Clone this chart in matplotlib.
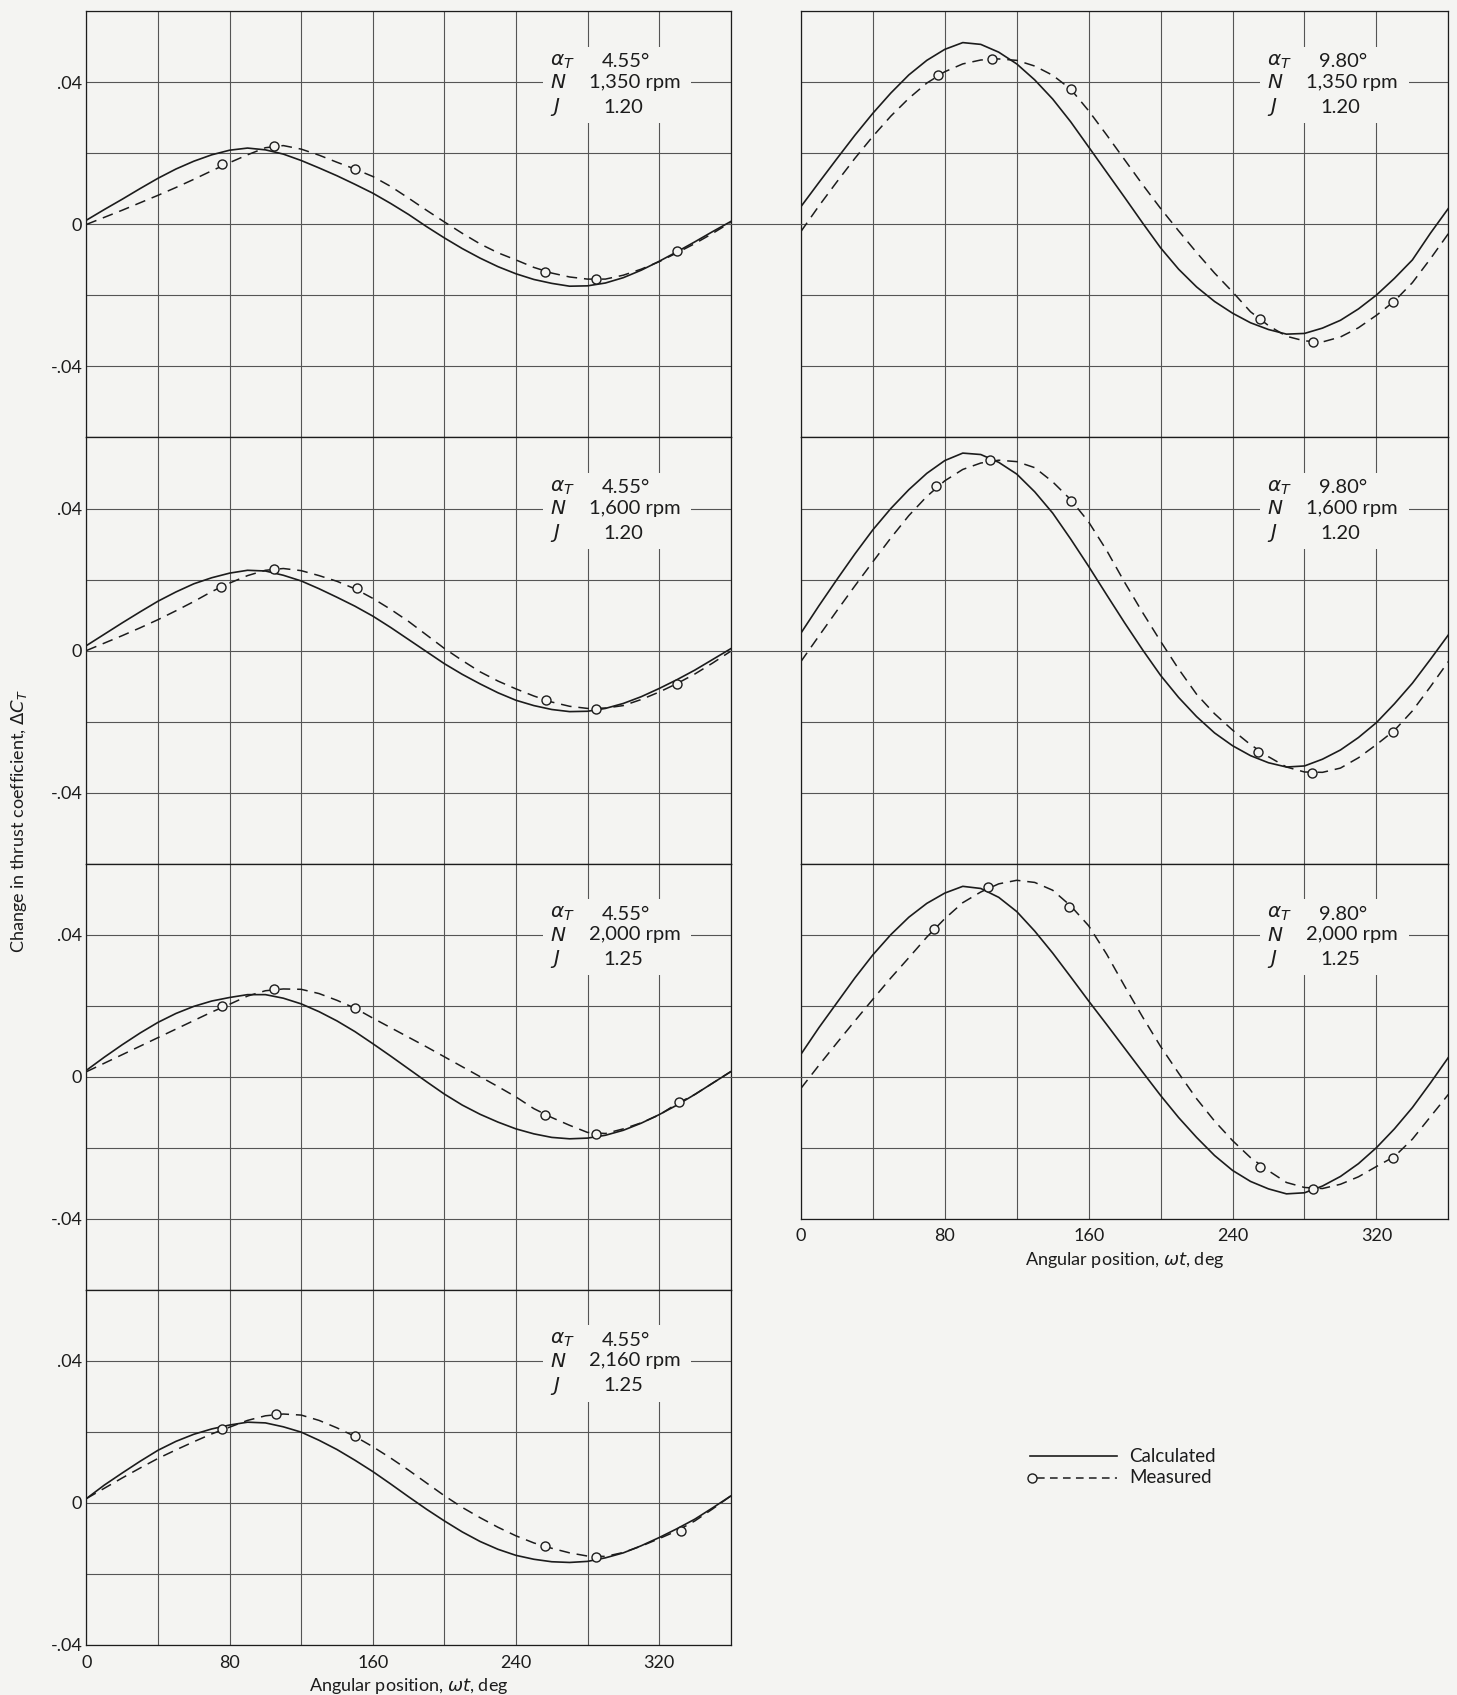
import numpy as np
import matplotlib
matplotlib.use("Agg")
import matplotlib.pyplot as plt
from matplotlib.patches import Rectangle
from matplotlib.lines import Line2D

plt.rcParams['font.family'] = ['Lato', 'DejaVu Sans']
plt.rcParams['mathtext.fontset'] = 'dejavusans'

PAPER = '#f4f4f2'
INK = '#1c1c1c'
GRID = '#555555'

# --- Data (every 10 deg) ---
deg = [0, 10, 20, 30, 40, 50, 60, 70, 80, 90, 100, 110, 120, 130, 140, 150, 160, 170, 180,
       190, 200, 210, 220, 230, 240, 250, 260, 270, 280, 290, 300, 310, 320, 330, 340, 350, 360]

# alpha_T 4.55 deg, 1,350 rpm, J 1.20
calc_455_1350 = [0.0012, 0.0042, 0.0071, 0.0101, 0.0130, 0.0156, 0.0178, 0.0196, 0.0209, 0.0215, 0.0210,
                 0.0198, 0.0180, 0.0159, 0.0137, 0.0113, 0.0088, 0.0059, 0.0028, -0.0006, -0.0038,
                 -0.0068, -0.0095, -0.0119, -0.0139, -0.0155, -0.0166, -0.0174, -0.0173, -0.0165, -0.0150,
                 -0.0129, -0.0104, -0.0077, -0.0049, -0.0020, 0.0008]
meas_455_1350 = [0.0000, 0.0020, 0.0040, 0.0061, 0.0082, 0.0104, 0.0127, 0.0151, 0.0174, 0.0196, 0.0216,
                 0.0222, 0.0212, 0.0195, 0.0175, 0.0156, 0.0135, 0.0107, 0.0074, 0.0040, 0.0007,
                 -0.0025, -0.0055, -0.0080, -0.0100, -0.0121, -0.0137, -0.0148, -0.0154, -0.0154, -0.0143,
                 -0.0126, -0.0105, -0.0080, -0.0054, -0.0025, 0.0006]
pts_x_455_1350 = [76, 105, 150, 256, 285, 330]
pts_y_455_1350 = [0.0170, 0.0222, 0.0155, -0.0133, -0.0155, -0.0075]

# alpha_T 4.55 deg, 1,600 rpm, J 1.20
calc_455_1600 = [0.0014, 0.0046, 0.0078, 0.0109, 0.0139, 0.0165, 0.0188, 0.0205, 0.0218, 0.0226, 0.0224,
                 0.0212, 0.0196, 0.0174, 0.0150, 0.0125, 0.0097, 0.0065, 0.0031, -0.0003, -0.0037,
                 -0.0067, -0.0094, -0.0119, -0.0140, -0.0155, -0.0166, -0.0172, -0.0171, -0.0163, -0.0149,
                 -0.0130, -0.0107, -0.0082, -0.0055, -0.0025, 0.0005]
meas_455_1600 = [0.0000, 0.0021, 0.0042, 0.0064, 0.0087, 0.0112, 0.0138, 0.0166, 0.0190, 0.0211, 0.0226,
                 0.0231, 0.0225, 0.0211, 0.0195, 0.0174, 0.0147, 0.0116, 0.0082, 0.0044, 0.0006,
                 -0.0028, -0.0060, -0.0086, -0.0108, -0.0128, -0.0145, -0.0157, -0.0163, -0.0162, -0.0155,
                 -0.0138, -0.0117, -0.0093, -0.0066, -0.0035, -0.0002]
pts_x_455_1600 = [75, 105, 151, 257, 285, 330]
pts_y_455_1600 = [0.0180, 0.0231, 0.0177, -0.0140, -0.0165, -0.0093]

# alpha_T 4.55 deg, 2,000 rpm, J 1.25
calc_455_2000 = [0.0018, 0.0055, 0.0090, 0.0123, 0.0153, 0.0178, 0.0198, 0.0213, 0.0223, 0.0231, 0.0231,
                 0.0221, 0.0205, 0.0183, 0.0157, 0.0127, 0.0093, 0.0058, 0.0022, -0.0014, -0.0049,
                 -0.0080, -0.0106, -0.0128, -0.0147, -0.0161, -0.0171, -0.0175, -0.0173, -0.0165, -0.0151,
                 -0.0131, -0.0107, -0.0080, -0.0050, -0.0018, 0.0014]
meas_455_2000 = [0.0014, 0.0038, 0.0062, 0.0086, 0.0110, 0.0134, 0.0158, 0.0182, 0.0204, 0.0227, 0.0242,
                 0.0247, 0.0246, 0.0234, 0.0215, 0.0193, 0.0165, 0.0138, 0.0111, 0.0084, 0.0056,
                 0.0028, 0.0000, -0.0028, -0.0057, -0.0090, -0.0115, -0.0137, -0.0157, -0.0160, -0.0147,
                 -0.0130, -0.0108, -0.0076, -0.0050, -0.0018, 0.0014]
pts_x_455_2000 = [76, 105, 150, 256, 285, 331]
pts_y_455_2000 = [0.0198, 0.0246, 0.0194, -0.0107, -0.0161, -0.0072]

# alpha_T 4.55 deg, 2,160 rpm, J 1.25
calc_455_2160 = [0.0012, 0.0050, 0.0084, 0.0117, 0.0148, 0.0173, 0.0193, 0.0208, 0.0219, 0.0227, 0.0225,
                 0.0214, 0.0199, 0.0176, 0.0150, 0.0120, 0.0088, 0.0053, 0.0017, -0.0018, -0.0051,
                 -0.0082, -0.0109, -0.0131, -0.0148, -0.0159, -0.0166, -0.0168, -0.0165, -0.0155, -0.0141,
                 -0.0121, -0.0098, -0.0073, -0.0046, -0.0014, 0.0019]
meas_455_2160 = [0.0012, 0.0041, 0.0070, 0.0098, 0.0125, 0.0149, 0.0172, 0.0194, 0.0213, 0.0232, 0.0245,
                 0.0250, 0.0247, 0.0232, 0.0211, 0.0187, 0.0158, 0.0126, 0.0092, 0.0056, 0.0020,
                 -0.0013, -0.0042, -0.0069, -0.0093, -0.0113, -0.0128, -0.0141, -0.0150, -0.0151, -0.0140,
                 -0.0122, -0.0101, -0.0079, -0.0051, -0.0017, 0.0019]
pts_x_455_2160 = [76, 106, 150, 256, 285, 332]
pts_y_455_2160 = [0.0207, 0.0250, 0.0189, -0.0122, -0.0153, -0.0079]

# alpha_T 9.80 deg, 1,350 rpm, J 1.20
calc_980_1350 = [0.0050, 0.0118, 0.0185, 0.0251, 0.0313, 0.0370, 0.0421, 0.0462, 0.0493, 0.0512, 0.0507,
                 0.0485, 0.0452, 0.0407, 0.0353, 0.0289, 0.0218, 0.0147, 0.0076, 0.0004, -0.0066,
                 -0.0126, -0.0176, -0.0217, -0.0250, -0.0277, -0.0296, -0.0309, -0.0307, -0.0292, -0.0270,
                 -0.0238, -0.0199, -0.0152, -0.0100, -0.0025, 0.0045]
meas_980_1350 = [-0.0020, 0.0052, 0.0120, 0.0186, 0.0248, 0.0305, 0.0355, 0.0398, 0.0430, 0.0452, 0.0463,
                 0.0466, 0.0462, 0.0446, 0.0420, 0.0381, 0.0320, 0.0252, 0.0182, 0.0112, 0.0045,
                 -0.0018, -0.0079, -0.0137, -0.0190, -0.0246, -0.0285, -0.0315, -0.0328, -0.0331, -0.0317,
                 -0.0291, -0.0256, -0.0216, -0.0164, -0.0097, -0.0026]
pts_x_980_1350 = [76, 106, 150, 255, 285, 329]
pts_y_980_1350 = [0.0420, 0.0466, 0.0382, -0.0266, -0.0331, -0.0219]

# alpha_T 9.80 deg, 1,600 rpm, J 1.20
calc_980_1600 = [0.0049, 0.0126, 0.0200, 0.0272, 0.0340, 0.0400, 0.0453, 0.0499, 0.0535, 0.0556, 0.0552,
                 0.0530, 0.0497, 0.0447, 0.0387, 0.0314, 0.0237, 0.0157, 0.0078, 0.0002, -0.0070,
                 -0.0132, -0.0186, -0.0232, -0.0268, -0.0296, -0.0316, -0.0328, -0.0325, -0.0306, -0.0280,
                 -0.0245, -0.0203, -0.0150, -0.0092, -0.0025, 0.0044]
meas_980_1600 = [-0.0031, 0.0041, 0.0112, 0.0182, 0.0250, 0.0317, 0.0380, 0.0434, 0.0478, 0.0510, 0.0528,
                 0.0536, 0.0532, 0.0515, 0.0475, 0.0425, 0.0362, 0.0282, 0.0192, 0.0107, 0.0026,
                 -0.0052, -0.0123, -0.0178, -0.0224, -0.0265, -0.0299, -0.0328, -0.0342, -0.0343, -0.0331,
                 -0.0302, -0.0265, -0.0225, -0.0170, -0.0102, -0.0031]
pts_x_980_1600 = [75, 105, 150, 254, 284, 329]
pts_y_980_1600 = [0.0463, 0.0536, 0.0421, -0.0285, -0.0346, -0.0229]

# alpha_T 9.80 deg, 2,000 rpm, J 1.25
calc_980_2000 = [0.0063, 0.0138, 0.0208, 0.0278, 0.0343, 0.0400, 0.0449, 0.0488, 0.0517, 0.0536, 0.0530,
                 0.0505, 0.0465, 0.0410, 0.0348, 0.0281, 0.0213, 0.0147, 0.0080, 0.0013, -0.0053,
                 -0.0115, -0.0171, -0.0222, -0.0264, -0.0295, -0.0316, -0.0330, -0.0327, -0.0308, -0.0281,
                 -0.0245, -0.0200, -0.0147, -0.0087, -0.0018, 0.0054]
meas_980_2000 = [-0.0033, 0.0032, 0.0095, 0.0157, 0.0218, 0.0278, 0.0335, 0.0393, 0.0445, 0.0490, 0.0520,
                 0.0543, 0.0553, 0.0547, 0.0525, 0.0481, 0.0425, 0.0345, 0.0255, 0.0168, 0.0085,
                 0.0010, -0.0062, -0.0125, -0.0180, -0.0228, -0.0265, -0.0298, -0.0312, -0.0315, -0.0303,
                 -0.0282, -0.0253, -0.0225, -0.0176, -0.0113, -0.0050]
pts_x_980_2000 = [74, 104, 149, 255, 285, 329]
pts_y_980_2000 = [0.0417, 0.0535, 0.0479, -0.0253, -0.0315, -0.0230]

alpha_labels = ['4.55°', '4.55°', '4.55°', '4.55°', '9.80°', '9.80°', '9.80°']
rpm_labels = ['1,350 rpm', '1,600 rpm', '2,000 rpm', '2,160 rpm', '1,350 rpm', '1,600 rpm', '2,000 rpm']
j_labels = ['1.20', '1.20', '1.25', '1.25', '1.20', '1.20', '1.25']

calc_sets = [calc_455_1350, calc_455_1600, calc_455_2000, calc_455_2160,
             calc_980_1350, calc_980_1600, calc_980_2000]
meas_sets = [meas_455_1350, meas_455_1600, meas_455_2000, meas_455_2160,
             meas_980_1350, meas_980_1600, meas_980_2000]
pts_x_sets = [pts_x_455_1350, pts_x_455_1600, pts_x_455_2000, pts_x_455_2160,
              pts_x_980_1350, pts_x_980_1600, pts_x_980_2000]
pts_y_sets = [pts_y_455_1350, pts_y_455_1600, pts_y_455_2000, pts_y_455_2160,
              pts_y_980_1350, pts_y_980_1600, pts_y_980_2000]

# --- Layout (measured on the reference, in its pixel units) ---
REF_W, REF_H = 1348.0, 1568.0
CELL = 65.7
TOP0 = 10.5

def fig_rect(x0, x1, top, ncell):
    return [x0 / REF_W, 1 - (top + ncell * CELL) / REF_H, (x1 - x0) / REF_W, ncell * CELL / REF_H]

# (column, row, number of grid cells tall, bottom panel?)
panel_layout = [('L', 0, 6, False), ('L', 1, 6, False), ('L', 2, 6, False), ('L', 3, 5, True),
                ('R', 0, 6, False), ('R', 1, 6, False), ('R', 2, 5, True)]
col_x = {'L': (80, 676), 'R': (741, 1340)}

fig = plt.figure(figsize=(14.57, 16.95), dpi=100)
fig.patch.set_facecolor(PAPER)

y_ticklabels = {0.04: '.04', 0.0: '0', -0.04: '-.04'}
x_ticklabels = {0: '0', 80: '80', 160: '160', 240: '240', 320: '320'}

axes = []
for i, (col, row, ncell, is_bottom) in enumerate(panel_layout):
    x0, x1 = col_x[col]
    ax = fig.add_axes(fig_rect(x0, x1, TOP0 + row * 6 * CELL, ncell))
    axes.append(ax)
    ymin = 0.06 - 0.02 * ncell
    ax.set_facecolor(PAPER)
    ax.set_xlim(0, 360)
    ax.set_ylim(ymin, 0.06)
    ax.set_axisbelow(True)

    xt = np.arange(0, 361, 40)
    yt = np.round(np.arange(ymin, 0.0601, 0.02), 2)
    ax.set_xticks(xt)
    ax.set_yticks(yt)
    ax.grid(True, color=GRID, lw=0.8)
    ax.tick_params(length=0, labelsize=13, colors=INK)
    ax.tick_params(axis='y', pad=3)
    ax.tick_params(axis='x', pad=7)

    if col == 'L':
        ax.set_yticklabels([y_ticklabels.get(round(float(v), 2), '') for v in yt])
    else:
        ax.set_yticklabels([])
    if is_bottom:
        ax.set_xticklabels([x_ticklabels.get(int(v), '') for v in xt])
        ax.set_xlabel(r'Angular position, $\omega t$, deg', fontsize=13, color=INK, labelpad=4)
    else:
        ax.set_xticklabels([])

    for s in ax.spines.values():
        s.set_color(INK)
        s.set_linewidth(0.9)

    # curves
    ax.plot(deg, calc_sets[i], color=INK, lw=1.2, zorder=3)
    ax.plot(deg, meas_sets[i], color=INK, lw=1.1, ls=(0, (7, 4.5)), zorder=3)
    ax.plot(pts_x_sets[i], pts_y_sets[i], ls='none', marker='o', ms=6.5, mew=1.0,
            mfc=PAPER, mec=INK, zorder=4)

    # condition block, with paper behind it so the grid is broken there
    ax.add_patch(Rectangle((255, 0.0285), 83, 0.0215, facecolor=PAPER, edgecolor='none', zorder=1))
    ax.text(259, 0.0458, r'$\alpha_T$', fontsize=14.5, color=INK, va='center', ha='left', zorder=5)
    ax.text(288, 0.0458, alpha_labels[i], fontsize=14.5, color=INK, va='center', ha='left', zorder=5)
    ax.text(259, 0.0400, r'$N$', fontsize=14.5, color=INK, va='center', ha='left', zorder=5)
    ax.text(281, 0.0400, rpm_labels[i], fontsize=14.5, color=INK, va='center', ha='left', zorder=5)
    ax.text(259, 0.0330, r'$J$', fontsize=14.5, color=INK, va='center', ha='left', zorder=5)
    ax.text(289, 0.0330, j_labels[i], fontsize=14.5, color=INK, va='center', ha='left', zorder=5)

# zero lines carry across the gap between the two columns
inv = fig.transFigure.inverted()
for li, ri in [(0, 4), (1, 5), (2, 6)]:
    yz = inv.transform(axes[li].transData.transform((0, 0)))[1]
    xa = inv.transform(axes[li].transData.transform((360, 0)))[0]
    xb = inv.transform(axes[ri].transData.transform((0, 0)))[0]
    fig.add_artist(Line2D([xa, xb], [yz, yz], transform=fig.transFigure, color=GRID, lw=0.8))

# y label for the whole figure
fig.text(18 / REF_W, 1 - 760 / REF_H, r'Change in thrust coefficient, $\Delta C_T$',
         rotation=90, ha='center', va='center', fontsize=13, color=INK)

# --- Legend (drawn by hand so the circle sits at the left end) ---
lax = fig.add_axes([940 / REF_W, 1 - 1380 / REF_H, 200 / REF_W, 45 / REF_H])
lax.set_xlim(0, 1)
lax.set_ylim(0, 1)
lax.axis('off')
lax.plot([0.065, 0.465], [0.73, 0.73], color=INK, lw=1.2)
lax.plot([0.095, 0.465], [0.29, 0.29], color=INK, lw=1.1, ls=(0, (5, 3.5)))
lax.plot([0.075], [0.29], ls='none', marker='o', ms=6.5, mew=1.0, mfc=PAPER, mec=INK)
lax.text(0.525, 0.73, 'Calculated', fontsize=13.5, color=INK, va='center', ha='left')
lax.text(0.525, 0.29, 'Measured', fontsize=13.5, color=INK, va='center', ha='left')

fig.savefig('out.png', dpi=100, facecolor=PAPER)
